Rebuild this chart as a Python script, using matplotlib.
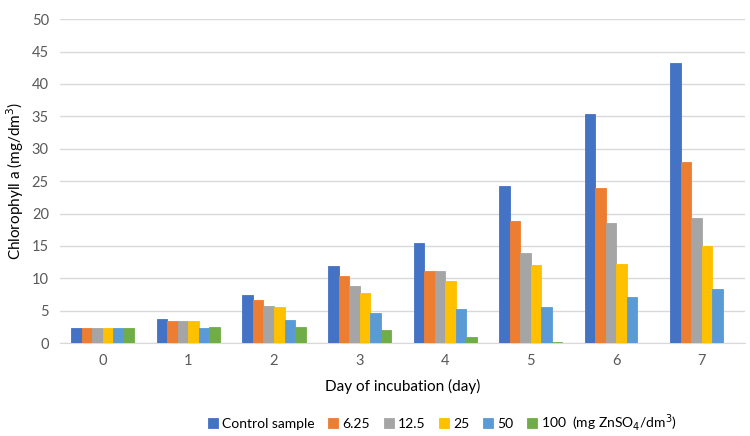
import numpy as np
import matplotlib.pyplot as plt

plt.rcParams['font.family'] = ['Lato', 'DejaVu Sans']

days = ['0', '1', '2', '3', '4', '5', '6', '7']
series = ['Control sample', '6.25', '12.5', '25', '50',
          '100  (mg ZnSO$_4$/dm$^3$)']
control = [2.3, 3.7, 7.5, 11.9, 15.4, 24.3, 35.4, 43.2]
c625 = [2.3, 3.4, 6.7, 10.3, 11.2, 18.9, 23.9, 28.0]
c125 = [2.3, 3.4, 5.8, 8.8, 11.1, 13.9, 18.5, 19.3]
c25 = [2.3, 3.4, 5.5, 7.7, 9.6, 12.0, 12.2, 15.0]
c50 = [2.3, 2.4, 3.6, 4.6, 5.3, 5.6, 7.1, 8.3]
c100 = [2.3, 2.5, 2.5, 2.1, 1.0, 0.15, 0, 0]
values = [control, c625, c125, c25, c50, c100]
colors = ['#4472C4', '#ED7D31', '#A5A5A5', '#FFC000', '#5B9BD5', '#70AD47']

fig = plt.figure(figsize=(7.5, 4.36), dpi=100)
ax = fig.add_axes([0.08, 0.213, 0.913, 0.743])

x = np.arange(len(days))
w = 0.123
for i, (vals, col) in enumerate(zip(values, colors)):
    ax.bar(x + (i - 2.5) * w, vals, w, color=col, label=series[i],
           edgecolor=col, linewidth=0.6, zorder=3)

ax.set_xlim(-0.5, len(days) - 0.5)
ax.set_ylim(0, 50)
ax.set_yticks(range(0, 51, 5))
ax.set_xticks(x)
ax.set_xticklabels(days)
ax.grid(axis='y', color='#D9D9D9', linewidth=1, zorder=0)
for s in ['top', 'right', 'left']:
    ax.spines[s].set_visible(False)
ax.spines['bottom'].set_color('#D9D9D9')
ax.tick_params(axis='both', length=0, colors='#595959', labelsize=10.5, pad=8)
ax.set_xlabel('Day of incubation (day)', fontsize=11, labelpad=8)
ax.set_ylabel('Chlorophyll a (mg/dm$^3$)', fontsize=11, labelpad=4)

fig.legend(*ax.get_legend_handles_labels(), loc='center',
           bbox_to_anchor=(0.59, 0.03), ncol=6,
           frameon=False, fontsize=10, handlelength=0.7, handleheight=0.7,
           handletextpad=0.3, columnspacing=1.0)

fig.savefig('out.png', dpi=100)
